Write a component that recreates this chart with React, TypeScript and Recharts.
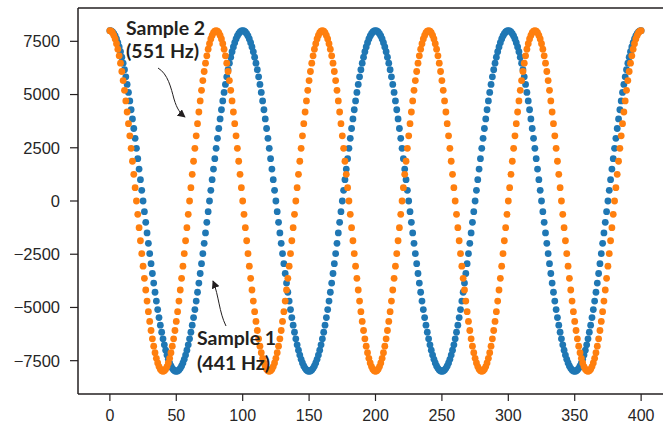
import { LineChart, Line, XAxis, YAxis, ReferenceLine } from 'recharts'

// sample index on x, amplitude on y
const X_TICKS = [0, 50, 100, 150, 200, 250, 300, 350, 400]
const Y_TICKS = [-7500, -5000, -2500, 0, 2500, 5000, 7500]

// Sample 1 (441 Hz) - blue dots
const SAMPLE_1 = [
  8000, 7984, 7937, 7858, 7749, 7608, 7438, 7239, 7010, 6755,
  6472, 6164, 5832, 5476, 5099, 4702, 4287, 3854, 3406, 2945,
  2472, 1990, 1499, 1003, 502, 0, -502, -1003, -1499, -1990,
  -2472, -2945, -3406, -3854, -4287, -4702, -5099, -5476, -5832, -6164,
  -6472, -6755, -7010, -7239, -7438, -7608, -7749, -7858, -7937, -7984,
  -8000, -7984, -7937, -7858, -7749, -7608, -7438, -7239, -7010, -6755,
  -6472, -6164, -5832, -5476, -5099, -4702, -4287, -3854, -3406, -2945,
  -2472, -1990, -1499, -1003, -502, 0, 502, 1003, 1499, 1990,
  2472, 2945, 3406, 3854, 4287, 4702, 5099, 5476, 5832, 6164,
  6472, 6755, 7010, 7239, 7438, 7608, 7749, 7858, 7937, 7984,
  8000, 7984, 7937, 7858, 7749, 7608, 7438, 7239, 7010, 6755,
  6472, 6164, 5832, 5476, 5099, 4702, 4287, 3854, 3406, 2945,
  2472, 1990, 1499, 1003, 502, 0, -502, -1003, -1499, -1990,
  -2472, -2945, -3406, -3854, -4287, -4702, -5099, -5476, -5832, -6164,
  -6472, -6755, -7010, -7239, -7438, -7608, -7749, -7858, -7937, -7984,
  -8000, -7984, -7937, -7858, -7749, -7608, -7438, -7239, -7010, -6755,
  -6472, -6164, -5832, -5476, -5099, -4702, -4287, -3854, -3406, -2945,
  -2472, -1990, -1499, -1003, -502, 0, 502, 1003, 1499, 1990,
  2472, 2945, 3406, 3854, 4287, 4702, 5099, 5476, 5832, 6164,
  6472, 6755, 7010, 7239, 7438, 7608, 7749, 7858, 7937, 7984,
  8000, 7984, 7937, 7858, 7749, 7608, 7438, 7239, 7010, 6755,
  6472, 6164, 5832, 5476, 5099, 4702, 4287, 3854, 3406, 2945,
  2472, 1990, 1499, 1003, 502, 0, -502, -1003, -1499, -1990,
  -2472, -2945, -3406, -3854, -4287, -4702, -5099, -5476, -5832, -6164,
  -6472, -6755, -7010, -7239, -7438, -7608, -7749, -7858, -7937, -7984,
  -8000, -7984, -7937, -7858, -7749, -7608, -7438, -7239, -7010, -6755,
  -6472, -6164, -5832, -5476, -5099, -4702, -4287, -3854, -3406, -2945,
  -2472, -1990, -1499, -1003, -502, 0, 502, 1003, 1499, 1990,
  2472, 2945, 3406, 3854, 4287, 4702, 5099, 5476, 5832, 6164,
  6472, 6755, 7010, 7239, 7438, 7608, 7749, 7858, 7937, 7984,
  8000, 7984, 7937, 7858, 7749, 7608, 7438, 7239, 7010, 6755,
  6472, 6164, 5832, 5476, 5099, 4702, 4287, 3854, 3406, 2945,
  2472, 1990, 1499, 1003, 502, 0, -502, -1003, -1499, -1990,
  -2472, -2945, -3406, -3854, -4287, -4702, -5099, -5476, -5832, -6164,
  -6472, -6755, -7010, -7239, -7438, -7608, -7749, -7858, -7937, -7984,
  -8000, -7984, -7937, -7858, -7749, -7608, -7438, -7239, -7010, -6755,
  -6472, -6164, -5832, -5476, -5099, -4702, -4287, -3854, -3406, -2945,
  -2472, -1990, -1499, -1003, -502, 0, 502, 1003, 1499, 1990,
  2472, 2945, 3406, 3854, 4287, 4702, 5099, 5476, 5832, 6164,
  6472, 6755, 7010, 7239, 7438, 7608, 7749, 7858, 7937, 7984,
  8000,
]

// Sample 2 (551 Hz) - orange dots
const SAMPLE_2 = [
  8000, 7975, 7902, 7779, 7608, 7391, 7128, 6821, 6472, 6083,
  5657, 5196, 4702, 4180, 3632, 3061, 2472, 1868, 1251, 628,
  0, -628, -1251, -1868, -2472, -3061, -3632, -4180, -4702, -5196,
  -5657, -6083, -6472, -6821, -7128, -7391, -7608, -7779, -7902, -7975,
  -8000, -7975, -7902, -7779, -7608, -7391, -7128, -6821, -6472, -6083,
  -5657, -5196, -4702, -4180, -3632, -3061, -2472, -1868, -1251, -628,
  0, 628, 1251, 1868, 2472, 3061, 3632, 4180, 4702, 5196,
  5657, 6083, 6472, 6821, 7128, 7391, 7608, 7779, 7902, 7975,
  8000, 7975, 7902, 7779, 7608, 7391, 7128, 6821, 6472, 6083,
  5657, 5196, 4702, 4180, 3632, 3061, 2472, 1868, 1251, 628,
  0, -628, -1251, -1868, -2472, -3061, -3632, -4180, -4702, -5196,
  -5657, -6083, -6472, -6821, -7128, -7391, -7608, -7779, -7902, -7975,
  -8000, -7975, -7902, -7779, -7608, -7391, -7128, -6821, -6472, -6083,
  -5657, -5196, -4702, -4180, -3632, -3061, -2472, -1868, -1251, -628,
  0, 628, 1251, 1868, 2472, 3061, 3632, 4180, 4702, 5196,
  5657, 6083, 6472, 6821, 7128, 7391, 7608, 7779, 7902, 7975,
  8000, 7975, 7902, 7779, 7608, 7391, 7128, 6821, 6472, 6083,
  5657, 5196, 4702, 4180, 3632, 3061, 2472, 1868, 1251, 628,
  0, -628, -1251, -1868, -2472, -3061, -3632, -4180, -4702, -5196,
  -5657, -6083, -6472, -6821, -7128, -7391, -7608, -7779, -7902, -7975,
  -8000, -7975, -7902, -7779, -7608, -7391, -7128, -6821, -6472, -6083,
  -5657, -5196, -4702, -4180, -3632, -3061, -2472, -1868, -1251, -628,
  0, 628, 1251, 1868, 2472, 3061, 3632, 4180, 4702, 5196,
  5657, 6083, 6472, 6821, 7128, 7391, 7608, 7779, 7902, 7975,
  8000, 7975, 7902, 7779, 7608, 7391, 7128, 6821, 6472, 6083,
  5657, 5196, 4702, 4180, 3632, 3061, 2472, 1868, 1251, 628,
  0, -628, -1251, -1868, -2472, -3061, -3632, -4180, -4702, -5196,
  -5657, -6083, -6472, -6821, -7128, -7391, -7608, -7779, -7902, -7975,
  -8000, -7975, -7902, -7779, -7608, -7391, -7128, -6821, -6472, -6083,
  -5657, -5196, -4702, -4180, -3632, -3061, -2472, -1868, -1251, -628,
  0, 628, 1251, 1868, 2472, 3061, 3632, 4180, 4702, 5196,
  5657, 6083, 6472, 6821, 7128, 7391, 7608, 7779, 7902, 7975,
  8000, 7975, 7902, 7779, 7608, 7391, 7128, 6821, 6472, 6083,
  5657, 5196, 4702, 4180, 3632, 3061, 2472, 1868, 1251, 628,
  0, -628, -1251, -1868, -2472, -3061, -3632, -4180, -4702, -5196,
  -5657, -6083, -6472, -6821, -7128, -7391, -7608, -7779, -7902, -7975,
  -8000, -7975, -7902, -7779, -7608, -7391, -7128, -6821, -6472, -6083,
  -5657, -5196, -4702, -4180, -3632, -3061, -2472, -1868, -1251, -628,
  0, 628, 1251, 1868, 2472, 3061, 3632, 4180, 4702, 5196,
  5657, 6083, 6472, 6821, 7128, 7391, 7608, 7779, 7902, 7975,
  8000,
]

const BLUE = '#1f77b4'
const ORANGE = '#ff7f0e'
const INK = '#231f20'
const Y_MAX = 9065

const chartData = SAMPLE_1.map((s1, i) => ({ n: i, s1, s2: SAMPLE_2[i] }))

const FONT = '"Liberation Sans", Arial, sans-serif'
const yTick = { fontSize: 16.5, fill: '#262626', fontFamily: FONT }
const xTick = { fontSize: 16, fill: '#262626', fontFamily: FONT }
const fmt = (v: number) => (v < 0 ? '\u2212' + Math.abs(v) : String(v))

// callout text + arrows, drawn over the chart
function Callouts() {
  const font = { fontFamily: 'Lato, "Open Sans", sans-serif', fontWeight: 700, fontSize: 19.5, fill: INK }
  return (
    <svg width={663} height={425} style={{ position: 'absolute', left: 0, top: 0, pointerEvents: 'none' }}>
      <defs>
        <marker id="head" viewBox="0 0 10 10" refX="9" refY="5" markerWidth="8" markerHeight="8" markerUnits="userSpaceOnUse" orient="auto">
          <path d="M0,0 L10,5 L0,10 z" fill={INK} />
        </marker>
      </defs>
      <text x={126} y={34.5} {...font}>Sample 2</text>
      <text x={126} y={57.5} {...font}>(551 Hz)</text>
      <path d="M158,68 C168,74 171,88 174,99 C177,109 180,113 185,117" fill="none" stroke={INK} strokeWidth={1} markerEnd="url(#head)" />
      <text x={197} y={345} {...font}>Sample 1</text>
      <text x={197} y={370} {...font}>(441 Hz)</text>
      <path d="M226,326 C219,312 219,296 213,281" fill="none" stroke={INK} strokeWidth={1} markerEnd="url(#head)" />
    </svg>
  )
}

export default function App() {
  return (
    <div style={{ position: 'absolute', left: 0, top: 0, width: 663, height: 425, overflow: 'hidden', background: '#fff' }}>
      <LineChart width={673} height={425} data={chartData} margin={{ top: 8, right: 0, bottom: 0, left: 0 }}>
        <XAxis
          dataKey="n"
          type="number"
          domain={[-24, 424]}
          ticks={X_TICKS}
          allowDataOverflow
          height={31}
          tickSize={7}
          tickMargin={9}
          tick={xTick}
          axisLine={{ stroke: INK, strokeWidth: 1.5 }}
          tickLine={{ stroke: INK, strokeWidth: 1.2 }}
        />
        <YAxis
          type="number"
          domain={[-Y_MAX, Y_MAX]}
          ticks={Y_TICKS}
          allowDataOverflow
          width={78}
          tickSize={8}
          tickMargin={10}
          tick={yTick}
          tickFormatter={fmt}
          axisLine={{ stroke: INK, strokeWidth: 1.5 }}
          tickLine={{ stroke: INK, strokeWidth: 1.2 }}
        />
        <ReferenceLine y={Y_MAX} stroke={INK} strokeWidth={1.5} />
        <Line
          dataKey="s1"
          stroke="none"
          dot={{ r: 3.4, fill: BLUE, stroke: 'none', strokeWidth: 0 }}
          activeDot={false}
          isAnimationActive={false}
        />
        <Line
          dataKey="s2"
          stroke="none"
          dot={{ r: 3.4, fill: ORANGE, stroke: 'none', strokeWidth: 0 }}
          activeDot={false}
          isAnimationActive={false}
        />
      </LineChart>
      <Callouts />
    </div>
  )
}
